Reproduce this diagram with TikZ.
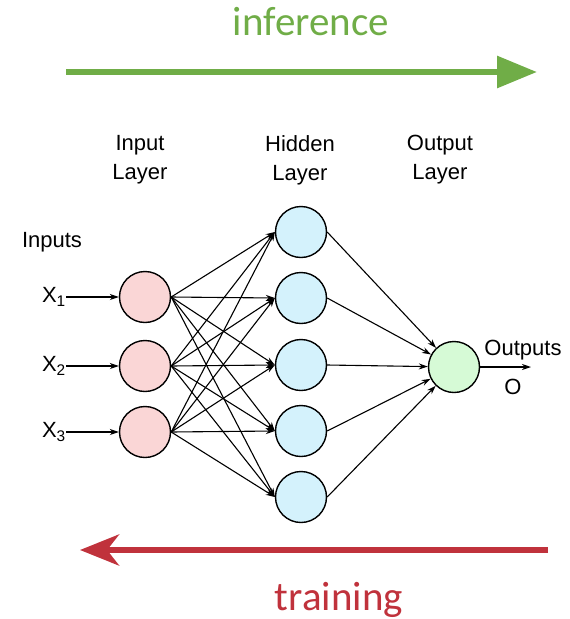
\documentclass[tikz,border=0pt]{standalone}
\usepackage{fontspec}
\setmainfont{Liberation Sans}
\newfontfamily\calfont{Carlito}
\usepackage{tikz}
\usetikzlibrary{arrows.meta,positioning}
\definecolor{mygreen}{RGB}{112,173,71}
\definecolor{myred}{RGB}{192,50,60}
\definecolor{mypink}{RGB}{250,214,214}
\definecolor{mycyan}{RGB}{212,242,252}
\definecolor{mylime}{RGB}{214,250,214}

\begin{document}
\begin{tikzpicture}[x=1pt,y=-1pt,
  neuron/.style={circle,draw=black,line width=1.4pt,minimum size=51pt,
                 inner sep=0pt},
  lbl/.style={font=\fontsize{22}{29}\selectfont,align=center,inner sep=0pt},
  big/.style={font=\calfont\fontsize{41}{41}\selectfont,anchor=base},
  arr/.style={-{Stealth[length=9pt,width=6pt]},line width=1.1pt},
  bigarr/.style={line width=6pt}]
  \useasboundingbox (0,0) rectangle (570,619);
  % direction arrows
  \node[big,text=mygreen](inf) at (311,35) {inference};
  \coordinate (infs) at (66,72); \coordinate (infe) at (537,72);
  \draw[bigarr,mygreen,-{Triangle[length=40pt,width=31pt]}](infs)--(infe);
  \coordinate (trs) at (548,550); \coordinate (tre) at (80,550);
  \draw[bigarr,myred,-{Stealth[length=39pt,width=31pt,inset=12pt]}](trs)--(tre);
  \node[big,text=myred](train) at (339,610) {training};
  % layer titles
  \node[lbl](tin) at (140,160) {Input\\Layer};
  \node[lbl](thid) at (300,160) {Hidden\\Layer};
  \node[lbl](tout) at (440,160) {Output\\Layer};
  % neurons
  \node[neuron,fill=mypink](i1) at (145,297) {};
  \node[neuron,fill=mypink](i2) at (145,366) {};
  \node[neuron,fill=mypink](i3) at (145,432) {};
  \node[neuron,fill=mycyan](h1) at (301,232) {};
  \node[neuron,fill=mycyan](h2) at (301,298) {};
  \node[neuron,fill=mycyan](h3) at (301,365) {};
  \node[neuron,fill=mycyan](h4) at (301,431) {};
  \node[neuron,fill=mycyan](h5) at (301,497) {};
  \node[neuron,fill=mylime](o) at (454,367) {};
  % inputs
  \node[lbl](inputs) at (52,242) {Inputs};
  \node[lbl,anchor=east](x1) at (66,297) {X\textsubscript{1}};
  \node[lbl,anchor=east](x2) at (66,366) {X\textsubscript{2}};
  \node[lbl,anchor=east](x3) at (66,432) {X\textsubscript{3}};
  \draw[arr](x1.east)--(i1.west); \draw[arr](x2.east)--(i2.west);
  \draw[arr](x3.east)--(i3.west);
  % input -> hidden
  \draw[arr](i1.east)--(h1.west); \draw[arr](i1.east)--(h2.west);
  \draw[arr](i1.east)--(h3.west); \draw[arr](i1.east)--(h4.west);
  \draw[arr](i1.east)--(h5.west);
  \draw[arr](i2.east)--(h1.west); \draw[arr](i2.east)--(h2.west);
  \draw[arr](i2.east)--(h3.west); \draw[arr](i2.east)--(h4.west);
  \draw[arr](i2.east)--(h5.west);
  \draw[arr](i3.east)--(h1.west); \draw[arr](i3.east)--(h2.west);
  \draw[arr](i3.east)--(h3.west); \draw[arr](i3.east)--(h4.west);
  \draw[arr](i3.east)--(h5.west);
  % hidden -> output
  \draw[arr](h1.east)--(o); \draw[arr](h2.east)--(o);
  \draw[arr](h3.east)--(o); \draw[arr](h4.east)--(o);
  \draw[arr](h5.east)--(o);
  % output
  \coordinate (oend) at (531,367);
  \draw[arr](o.east)--(oend);
  \node[lbl](outs) at (523,350) {Outputs};
  \node[lbl](oo) at (513,387) {O};
\end{tikzpicture}
\end{document}
